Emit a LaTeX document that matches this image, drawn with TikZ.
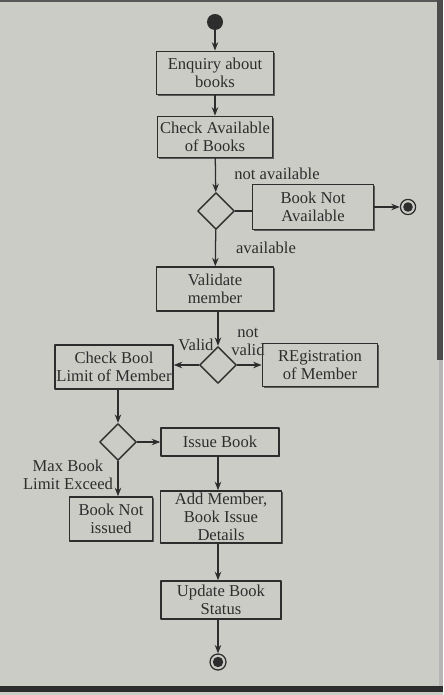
\documentclass[tikz,border=0pt]{standalone}
\usepackage{fontspec}
\setmainfont{Liberation Serif}
\usepackage{tikz}
\usetikzlibrary{positioning,arrows.meta,shapes.geometric,shadows}
\definecolor{pagegray}{RGB}{204,204,199}
\definecolor{inkgray}{RGB}{45,45,45}

\begin{document}
\begin{tikzpicture}[x=0.025cm, y=-0.025cm, line cap=round, line join=round,
  act/.style={draw=inkgray, fill=pagegray, line width=1.1pt, rectangle, align=center,
    inner sep=1pt, text=inkgray, font=\fontsize{11.8}{13}\selectfont,
    drop shadow={shadow xshift=0.8pt, shadow yshift=-0.8pt, opacity=0.7, fill=inkgray}},
  dec/.style={draw=inkgray, fill=pagegray, line width=1pt, diamond, minimum width=0.92cm,
    minimum height=0.92cm, inner sep=0pt},
  flow/.style={draw=inkgray, line width=0.9pt, -{Stealth[length=6pt, width=4.6pt]}},
  lbl/.style={text=inkgray, align=center, inner sep=0pt,
    font=\fontsize{11.8}{12.5}\selectfont}]

% Page
\useasboundingbox (0,0) rectangle (443,695);
\fill[pagegray] (0,0) rectangle (443,695);
\fill[inkgray!80] (0,0) rectangle (443,2);
\fill[inkgray] (0,686) rectangle (443,692);
\fill[inkgray!85] (437,0) rectangle (443,360);
\fill[inkgray!35] (439,360) rectangle (443,686);

% Start and end nodes
\node[circle, fill=inkgray, minimum size=0.4cm, inner sep=0pt] (start) at (215,22) {};
\node[circle, draw=inkgray, line width=0.9pt, minimum size=0.38cm, inner sep=0pt] (stopA) at (408,207) {};
\fill[inkgray] (stopA) circle (0.12cm);
\node[circle, draw=inkgray, line width=0.9pt, minimum size=0.4cm, inner sep=0pt] (stopB) at (218,662) {};
\fill[inkgray] (stopB) circle (0.13cm);

% Activities
\node[act, minimum width=2.93cm, minimum height=1.08cm] (enquiry) at (215,73) {Enquiry about\\books};
\node[act, minimum width=2.88cm, minimum height=1.03cm] (check) at (215,137) {Check Available\\of Books};
\node[act, minimum width=3.03cm, minimum height=1.13cm] (notavail) at (313,207) {Book Not\\Available};
\node[act, minimum width=2.93cm, minimum height=1.10cm] (validate) at (215,289) {Validate\\member};
\node[act, minimum width=2.93cm, minimum height=1.10cm] (limit) at (114,367) {Check Bool\\Limit of Member};
\node[act, minimum width=2.88cm, minimum height=1.08cm] (regist) at (320,365) {REgistration\\of Member};
\node[act, minimum width=2.95cm, minimum height=0.70cm] (issue) at (220,442) {Issue Book};
\node[act, minimum width=2.08cm, minimum height=1.10cm] (notissued) at (111,519) {Book Not\\issued};
\node[act, minimum width=3.03cm, minimum height=1.30cm] (addmem) at (221,517) {Add Member,\\Book Issue\\Details};
\node[act, minimum width=3.00cm, minimum height=0.95cm] (update) at (221,600) {Update Book\\Status};

% Decisions
\node[dec] (availQ) at (216,211) {};
\node[dec] (validQ) at (218,365) {};
\node[dec] (limitQ) at (118,442) {};

% Flow
\draw[flow] (start) -- (enquiry);
\draw[flow] (enquiry) -- (check);
\draw[flow] (check) -- (availQ);
\draw[draw=inkgray, line width=0.9pt] (availQ.east) -- (notavail.west |- availQ.east);
\draw[flow] (notavail) -- (stopA);
\draw[flow] (availQ) -- (validate);
\draw[flow] (validate.south -| validQ.north) -- (validQ);
\draw[flow] (validQ.west) -- (limit.east |- validQ.west);
\draw[flow] (validQ.east) -- (regist.west |- validQ.east);
\draw[flow] (limit.south -| limitQ.north) -- (limitQ);
\draw[flow] (limitQ.east) -- (issue.west |- limitQ.east);
\draw[flow] (limitQ.south) -- (notissued.north -| limitQ.south);
\draw[flow] (issue.south -| stopB) -- (addmem.north -| stopB);
\draw[flow] (addmem.south -| stopB) -- (update.north -| stopB);
\draw[flow] (update.south -| stopB) -- (stopB);

% Guards
\node[lbl] (gNotAvail) at (277,174) {not available};
\node[lbl] (gAvail) at (266,248) {available};
\node[lbl] (gValid) at (196,345) {Valid};
\node[lbl] (gNotValid) at (248,342) {not\\valid};
\node[lbl] (gMax) at (68,475) {Max Book\\Limit Exceed};
\end{tikzpicture}
\end{document}
